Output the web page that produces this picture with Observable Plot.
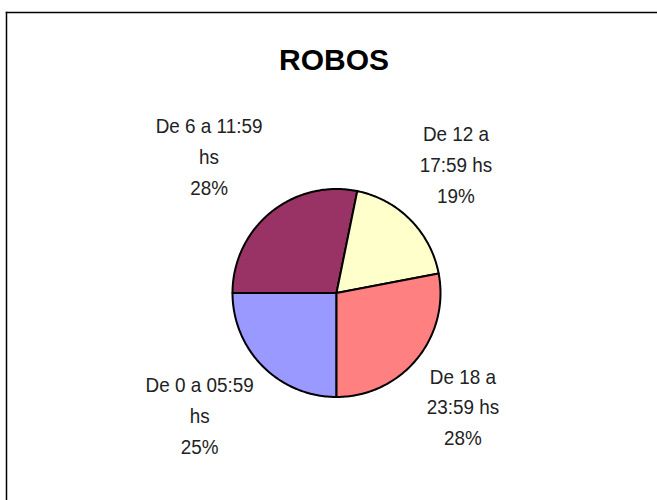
<!DOCTYPE html>
<html>
<head>
<meta charset="utf-8">
<script src="https://cdn.jsdelivr.net/npm/d3@7"></script>
<script src="https://cdn.jsdelivr.net/npm/@observablehq/plot@0.6"></script>
<style>
  html, body { margin: 0; padding: 0; background: #fff; }
  #chart svg { display: block; }
</style>
</head>
<body>
<div id="chart"></div>
<script>
// ---- data ----
const title = "ROBOS";
const categories = ["De 0 a 05:59 hs", "De 6 a 11:59 hs", "De 12 a 17:59 hs", "De 18 a 23:59 hs"];
const labelTexts = ["De 0 a 05:59\nhs", "De 6 a 11:59\nhs", "De 12 a\n17:59 hs", "De 18 a\n23:59 hs"];
const values = [25.0, 28.2, 18.8, 28.0];
const colors = ["#9999FF", "#993366", "#FFFFCC", "#FF8080"];

// ---- layout ----
const W = 657, H = 500;
const cx = 336, cy = 292.5, r = 104;
const labelFont = "'Liberation Sans', Arial, sans-serif";
const labelSize = 21;
const squeeze = 0.9;   // condensed look of the original label font
const lineH = 31;

const total = d3.sum(values);
const rows = categories.map((c, i) => ({
  name: c,
  value: values[i],
  text: labelTexts[i] + "\n" + Math.round(values[i] / total * 100) + "%"
}));

const arcs = d3.pie().sort(null).value(d => d.value)
  .startAngle(Math.PI).endAngle(3 * Math.PI)(rows);

const pt = (a, rad) => [cx + rad * Math.sin(a), cy - rad * Math.cos(a)];

// polygon points for each slice
const slicePts = [];
arcs.forEach(a => {
  const n = Math.max(2, Math.ceil((a.endAngle - a.startAngle) / (Math.PI / 180)));
  slicePts.push({name: a.data.name, p: [cx, cy]});
  for (let k = 0; k <= n; k++) {
    const ang = a.startAngle + (a.endAngle - a.startAngle) * k / n;
    slicePts.push({name: a.data.name, p: pt(ang, r)});
  }
});

// label positions: box corner near the pie along the mid-angle
const ctx = document.createElement("canvas").getContext("2d");
ctx.font = `${labelSize}px ${labelFont}`;
const Rc = r + 13;
const labels = arcs.map(a => {
  const m = (a.startAngle + a.endAngle) / 2;
  const w = squeeze * d3.max(a.data.text.split("\n"), s => ctx.measureText(s).width);
  const [x0, y0] = pt(m, Rc);
  const top = Math.cos(m) > 0;
  return {
    text: a.data.text,
    x: x0 + Math.sign(Math.sin(m)) * w / 2,
    y: y0 + (top ? -48.5 : 37)
  };
});

const chart = Plot.plot({
  width: W, height: H,
  marginLeft: 6, marginTop: 12, marginRight: 0, marginBottom: 0,
  x: {domain: [6, W], axis: null},
  y: {domain: [12, H], range: [12, H], axis: null},
  color: {domain: categories, range: colors},
  style: {background: "#fff"},
  marks: [
    Plot.frame({anchor: "left", stroke: "#000", strokeWidth: 1.5}),
    Plot.frame({anchor: "top", stroke: "#000", strokeWidth: 1.5}),
    Plot.line(slicePts, {
      x: d => d.p[0], y: d => d.p[1], z: "name",
      fill: "name", stroke: "#000", strokeWidth: 2,
      curve: "linear-closed", strokeLinejoin: "round"
    }),
    Plot.text(labels, {
      x: "x", y: "y", text: "text",
      fill: "#222", fontSize: labelSize, fontFamily: labelFont,
      lineHeight: lineH / labelSize, textAnchor: "middle", lineAnchor: "middle"
    }),
    Plot.text([title], {
      frameAnchor: "top", lineAnchor: "top", dy: 36, dx: 2,
      fontSize: 30, fontWeight: "bold", fill: "#000",
      fontFamily: "'Liberation Sans', Arial, sans-serif"
    })
  ]
});
document.getElementById("chart").append(chart);
// condense the label glyphs horizontally around their anchor
d3.select(chart).selectAll(`g[font-size="${labelSize}"] > text`).each(function () {
  const t = this.getAttribute("transform") || "";
  this.setAttribute("transform", `${t} scale(${squeeze},1)`);
});
</script>
</body>
</html>
